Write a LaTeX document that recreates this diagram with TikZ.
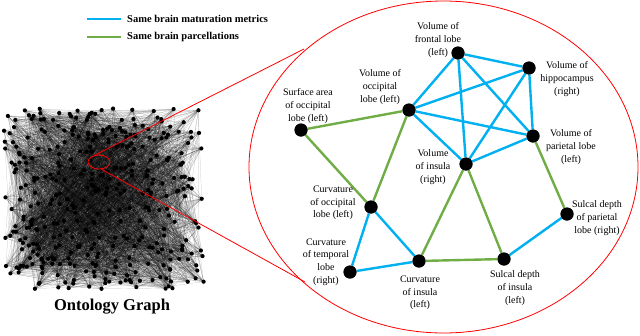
\documentclass[tikz,border=0pt]{standalone}
\usepackage{fontspec}
\setmainfont{Liberation Serif}
\usetikzlibrary{shapes.geometric}
\definecolor{mblue}{RGB}{0,176,240}
\definecolor{mgreen}{RGB}{112,173,71}
\tikzset{
  gedge/.style={black, opacity=0.25, line width=0.2pt},
  gdot/.style={fill=black},
  bedge/.style={mblue, line width=2.4pt},
  gredge/.style={mgreen, line width=2.4pt},
  bnode/.style={circle, fill=black, minimum size=13pt, inner sep=0pt},
  lbl/.style={align=center, inner sep=0pt, font=\fontsize{10}{12.7}\selectfont},
  zoomline/.style={red, line width=0.8pt},
}
\begin{document}
\begin{tikzpicture}[x=1pt,y=-1pt]
\useasboundingbox (0,0) rectangle (640,335);
% ---------- ontology graph ----------
\pgfmathsetseed{7}
\foreach \i in {1,...,380}{
  \pgfmathsetmacro{\gx}{4+rnd*200}
  \pgfmathsetmacro{\gy}{107+rnd*182}
  \coordinate (g\i) at (\gx,\gy);
}
\foreach \i in {1,...,380}{
  \foreach \k in {1,...,12}{
    \pgfmathrandominteger{\j}{1}{380}
    \draw[gedge] (g\i) -- (g\j);
  }
}
\foreach \i in {1,...,380}{
  \fill[gdot] (g\i) circle (2.1);
}
\node[font=\bfseries\fontsize{16.5}{20}\selectfont] (otitle) at (112,307) {Ontology Graph};
% ---------- zoom ellipses ----------
\node[draw=red, line width=0.8pt, ellipse, minimum width=22pt, minimum height=14pt, inner sep=0pt] (small) at (99,162) {};
\node[draw=red, line width=0.8pt, ellipse, minimum width=389pt, minimum height=332pt, inner sep=0pt] (big) at (443.5,167) {};
\coordinate (sA) at (94,155.5);
\coordinate (sB) at (101,169);
\coordinate (bA) at (304,49);
\coordinate (bB) at (305,282);
\draw[zoomline] (sA) -- (bA);
\draw[zoomline] (sB) -- (bB);
% ---------- legend ----------
\coordinate (l1a) at (87,19); \coordinate (l1b) at (121,19);
\coordinate (l2a) at (87,37); \coordinate (l2b) at (121,37);
\draw[bedge, line width=2.6pt] (l1a) -- (l1b);
\draw[gredge, line width=2.6pt] (l2a) -- (l2b);
\node[anchor=west, inner sep=0pt, font=\bfseries\fontsize{10.5}{12}\selectfont] (leg1) at (127,19) {Same brain maturation metrics};
\node[anchor=west, inner sep=0pt, font=\bfseries\fontsize{10.5}{12}\selectfont] (leg2) at (127,37) {Same brain parcellations};
% ---------- detail graph nodes ----------
\node[bnode] (fr) at (458,53) {};
\node[bnode] (hip) at (529,68) {};
\node[bnode] (ov) at (409,110) {};
\node[bnode] (sa) at (301,130) {};
\node[bnode] (pv) at (533,136) {};
\node[bnode] (iv) at (466,164) {};
\node[bnode] (co) at (371,207) {};
\node[bnode] (sp) at (567,214) {};
\node[bnode] (ct) at (350,272) {};
\node[bnode] (ci) at (419,261) {};
\node[bnode] (si) at (504,259) {};
% edges
\path (fr) edge[bedge] (hip) edge[bedge] (ov) edge[bedge] (iv) edge[bedge] (pv);
\path (hip) edge[bedge] (ov) edge[bedge] (iv) edge[bedge] (pv);
\path (ov) edge[bedge] (iv) edge[bedge] (pv);
\path (iv) edge[bedge] (pv);
\path (co) edge[bedge] (ct) edge[bedge] (ci);
\path (ct) edge[bedge] (ci);
\path (si) edge[bedge] (sp);
\path (sa) edge[gredge] (ov) edge[gredge] (co);
\path (ov) edge[gredge] (co);
\path (iv) edge[gredge] (ci) edge[gredge] (si);
\path (ci) edge[gredge] (si);
\path (pv) edge[gredge] (sp);
% redraw nodes on top
\foreach \n in {fr,hip,ov,sa,pv,iv,co,sp,ct,ci,si}{
  \fill (\n) circle (6.5);
}
% ---------- labels ----------
\node[lbl] (lfr) at (438,40) {Volume of\\frontal lobe\\(left)};
\node[lbl] (lhip) at (567,79) {Volume of\\hippocampus\\(right)};
\node[lbl] (lov) at (380,87) {Volume of\\occipital\\lobe (left)};
\node[lbl] (lsa) at (308,106) {Surface area\\of occipital\\lobe (left)};
\node[lbl] (lpv) at (571,147) {Volume of\\parietal lobe\\(left)};
\node[lbl] (liv) at (433,167) {Volume\\of insula\\(right)};
\node[lbl] (lco) at (333,203) {Curvature\\of occipital\\lobe (left)};
\node[lbl] (lsp) at (597,218) {Sulcal depth\\of parietal\\lobe (right)};
\node[lbl] (lct) at (326,262) {Curvature\\of temporal\\lobe\\(right)};
\node[lbl] (lci) at (420,293) {Curvature\\of insula\\(left)};
\node[lbl] (lsi) at (515,288) {Sulcal depth\\of insula\\(left)};
\end{tikzpicture}
\end{document}
